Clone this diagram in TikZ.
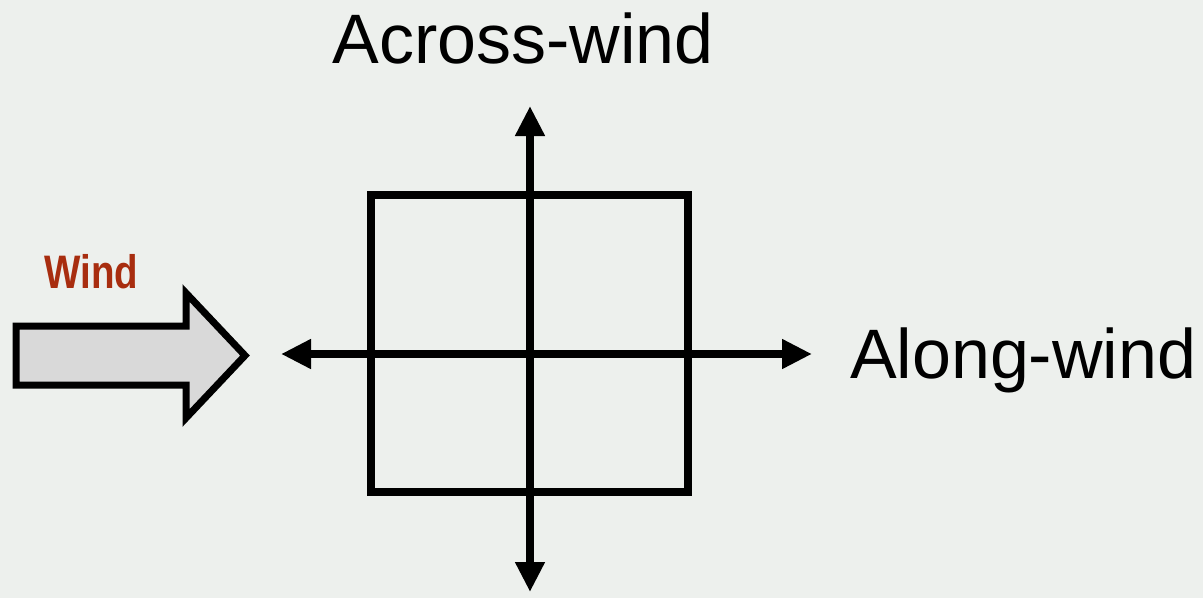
\documentclass[tikz,border=0pt]{standalone}
\usepackage{fontspec}
\setmainfont{Liberation Sans}
\usetikzlibrary{positioning,arrows.meta}
\definecolor{paper}{RGB}{237,240,237}
\definecolor{windred}{RGB}{168,45,15}
\definecolor{blockgray}{RGB}{217,217,217}
\begin{document}
\begin{tikzpicture}[x=1pt, y=-1pt,
  axis/.style={line width=8.5pt, {Triangle[width=28pt,length=30pt]}-{Triangle[width=28pt,length=30pt]}},
  label/.style={inner sep=0pt, outer sep=0pt, font=\fontsize{70}{70}\selectfont}]
  \useasboundingbox (0,0) rectangle (1203,598);
  \fill[paper] (0,0) rectangle (1203,598);
  % section
  \node (box) [draw, line width=8pt, minimum width=317pt, minimum height=297pt, inner sep=0pt] at (529.5,343.5) {};
  \coordinate (top) at (530,106);
  \coordinate (bottom) at (530,592);
  \coordinate (left) at (281,354);
  \coordinate (right) at (812,354);
  \draw[axis] (bottom) -- (top);
  \draw[axis] (left) -- (right);
  \node (across) [label, anchor=base] at (523,63) {Across-wind};
  \node (along) [label, anchor=base west] at (850,378) {Along-wind};
  % wind
  \draw[line width=7pt, line join=miter, fill=blockgray]
    (16,326) -- (186,326) -- (186,293) -- (245,355.5) -- (186,418) -- (186,385) -- (16,385) -- cycle;
  \node (wind) [inner sep=0pt, anchor=base, text=windred, font=\fontsize{47}{47}\selectfont\bfseries] at (91.5,288) {\scalebox{0.82}[1]{Wind}};
\end{tikzpicture}
\end{document}
